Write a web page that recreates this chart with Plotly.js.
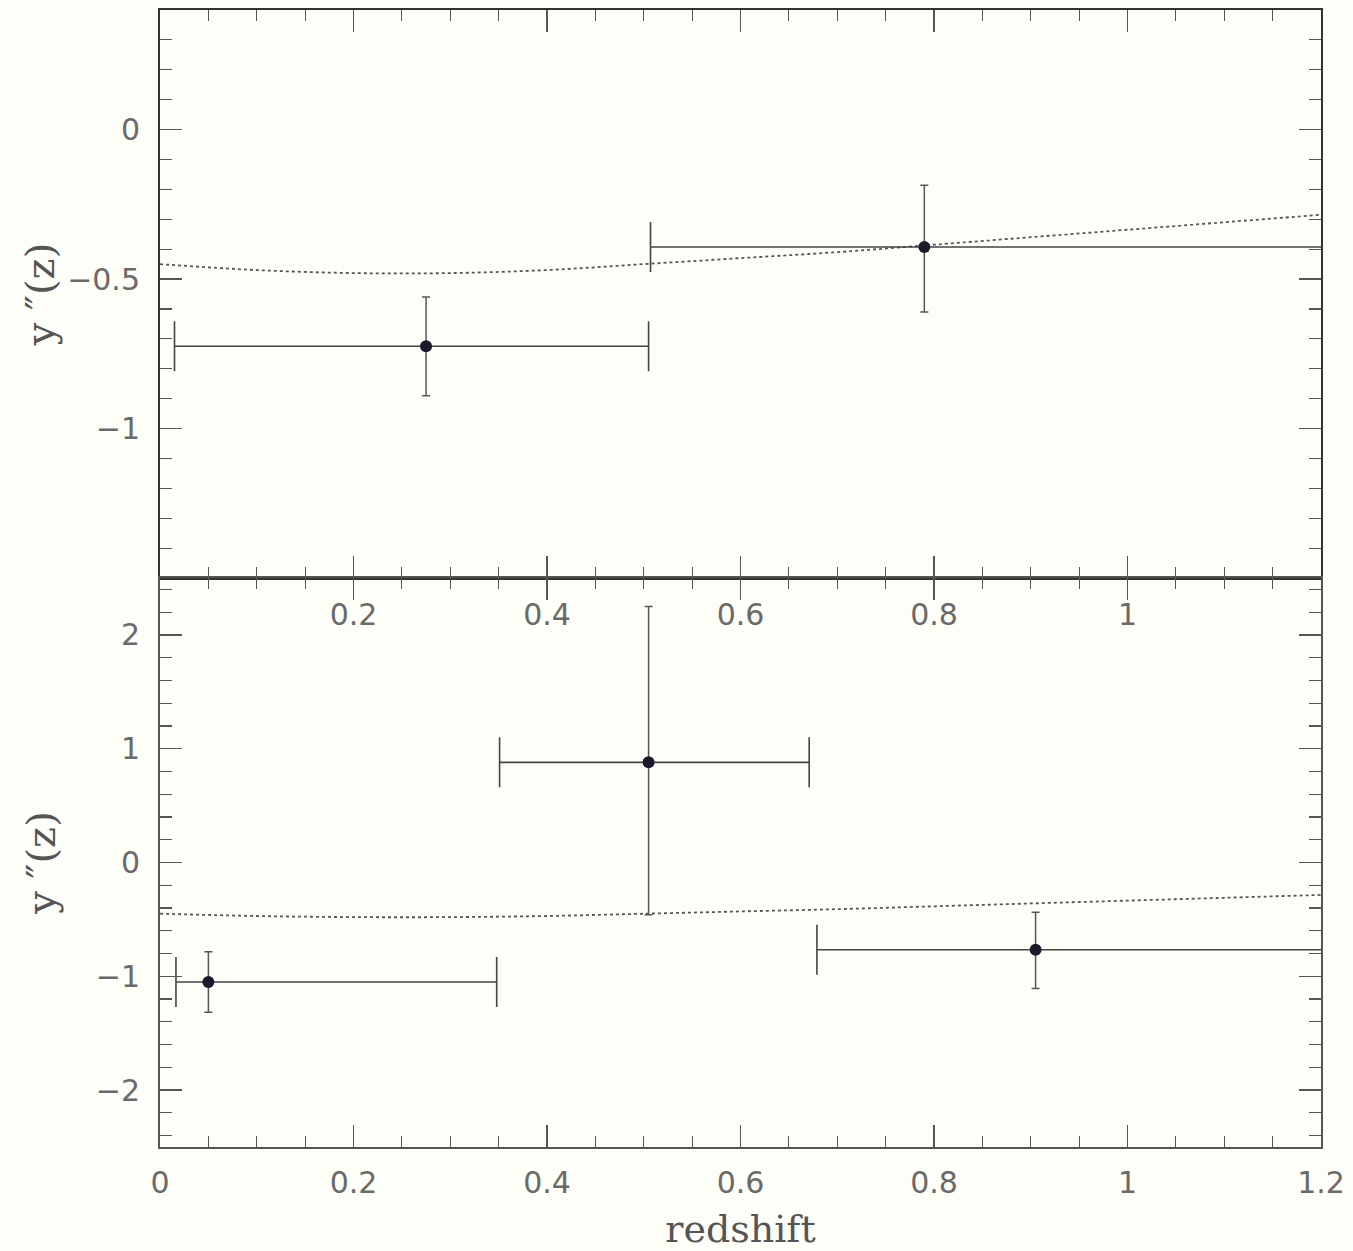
<!DOCTYPE html>
<html>
<head>
<meta charset="utf-8">
<script src="https://cdn.plot.ly/plotly-3.0.1.min.js"></script>
<style>html,body{margin:0;padding:0;background:#fefef8;}</style>
</head>
<body>
<div id="chart" style="width:1353px;height:1251px;"></div>
<script>
// ---- data ----
// top panel
const topZ      = [0.275, 0.79];
const topY      = [-0.725, -0.393];
const topYErrUp = [0.165, 0.207];
const topYErrDn = [0.165, 0.217];
const topZLo    = [0.015, 0.507];
const topZHi    = [0.505, 1.25];
// bottom panel
const botZ      = [0.05, 0.505, 0.905];
const botY      = [-1.05, 0.88, -0.767];
const botYErrUp = [0.265, 1.37, 0.33];
const botYErrDn = [0.265, 1.34, 0.34];
const botZLo    = [0.0165, 0.351, 0.679];
const botZHi    = [0.348, 0.671, 1.25];
// model curve (dotted)
const curveZ = [0, 0.1, 0.2, 0.3, 0.4, 0.5, 0.6, 0.7, 0.8, 0.9, 1.0, 1.1, 1.2];
const curveY = [-0.45, -0.47, -0.48, -0.48, -0.47, -0.45, -0.43, -0.41, -0.385, -0.36, -0.335, -0.31, -0.285];
// ticks
const topXTicks = [0.2, 0.4, 0.6, 0.8, 1];
const botXTicks = [0, 0.2, 0.4, 0.6, 0.8, 1, 1.2];
const topYTicks = [0, -0.5, -1];
const botYTicks = [2, 1, 0, -1, -2];

const lineCol = '#333333';
const tickFont = {family: 'DejaVu Sans, sans-serif', size: 30, color: '#6a6a6a'};
const titleFont = {family: 'DejaVu Serif, serif', size: 40, color: '#555555'};

function pts(z, y, up, dn, lo, hi, xa, ya) {
  return {
    x: z, y: y, xaxis: xa, yaxis: ya, type: 'scatter', mode: 'markers',
    marker: {color: '#1a1a2a', size: 12},
    error_y: {type: 'data', symmetric: false, array: up, arrayminus: dn,
              color: '#555555', thickness: 1.5, width: 4},
    error_x: {type: 'data', symmetric: false,
              array: hi.map((h, i) => h - z[i]),
              arrayminus: lo.map((l, i) => z[i] - l),
              color: '#444444', thickness: 1.6, width: 25},
    showlegend: false, hoverinfo: 'x+y'
  };
}
function curve(xa, ya) {
  return {x: curveZ, y: curveY, xaxis: xa, yaxis: ya, type: 'scatter', mode: 'lines',
          line: {color: '#555555', width: 1.8, dash: 'dot', shape: 'spline'},
          showlegend: false, hoverinfo: 'skip'};
}

const data = [
  curve('x', 'y'),
  pts(topZ, topY, topYErrUp, topYErrDn, topZLo, topZHi, 'x', 'y'),
  curve('x2', 'y2'),
  pts(botZ, botY, botYErrUp, botYErrDn, botZLo, botZHi, 'x2', 'y2')
];

const W = 1353, H = 1251;
const xDom = [160 / W, 1321 / W];
const axCommon = {
  showgrid: false, zeroline: false, showline: true, linecolor: lineCol, linewidth: 2,
  mirror: 'ticks', ticks: 'inside', tickcolor: '#555555', tickwidth: 1.5,
  tickfont: tickFont, automargin: false
};

const layout = {
  width: W, height: H,
  margin: {l: 0, r: 0, t: 0, b: 0},
  paper_bgcolor: '#fefef8', plot_bgcolor: '#fefef8',
  showlegend: false,
  xaxis: Object.assign({}, axCommon, {
    domain: xDom, anchor: 'y', range: [0, 1.2],
    tickmode: 'array', tickvals: topXTicks, ticktext: topXTicks.map(String),
    ticklen: 22, ticklabelstandoff: 9,
    minor: {dtick: 0.05, tick0: 0, ticks: 'inside', ticklen: 11, tickcolor: '#555555', tickwidth: 1.2}
  }),
  yaxis: Object.assign({}, axCommon, {
    domain: [(H - 578) / H, (H - 10) / H], anchor: 'x', range: [-1.5, 0.4],
    tickmode: 'array', tickvals: topYTicks, ticktext: ['0', '−0.5', '−1'],
    ticklen: 22, ticklabelstandoff: 12,
    minor: {dtick: 0.1, tick0: 0, ticks: 'inside', ticklen: 12, tickcolor: '#555555', tickwidth: 1.2},
    title: {text: 'y ″(z)', font: titleFont, standoff: 0}
  }),
  xaxis2: Object.assign({}, axCommon, {
    domain: xDom, anchor: 'y2', range: [0, 1.2],
    tickmode: 'array', tickvals: botXTicks, ticktext: botXTicks.map(String),
    ticklen: 22, linecolor: '#555555', ticklabelstandoff: 8,
    minor: {dtick: 0.05, tick0: 0, ticks: 'inside', ticklen: 11, tickcolor: '#555555', tickwidth: 1.2},
    title: {text: 'redshift', font: {family: 'DejaVu Serif, serif', size: 38, color: '#555555'}, standoff: 18}
  }),
  yaxis2: Object.assign({}, axCommon, {
    domain: [(H - 1147) / H, (H - 578) / H], anchor: 'x2', range: [-2.5, 2.5],
    tickmode: 'array', tickvals: botYTicks, ticktext: ['2', '1', '0', '−1', '−2'],
    ticklen: 22, linecolor: '#555555', ticklabelstandoff: 12,
    minor: {dtick: 0.2, tick0: 0, ticks: 'inside', ticklen: 12, tickcolor: '#555555', tickwidth: 1.2},
    title: {text: 'y ″(z)', font: titleFont, standoff: 28}
  })
};

Plotly.newPlot('chart', data, layout, {displayModeBar: false, staticPlot: true});
</script>
</body>
</html>
